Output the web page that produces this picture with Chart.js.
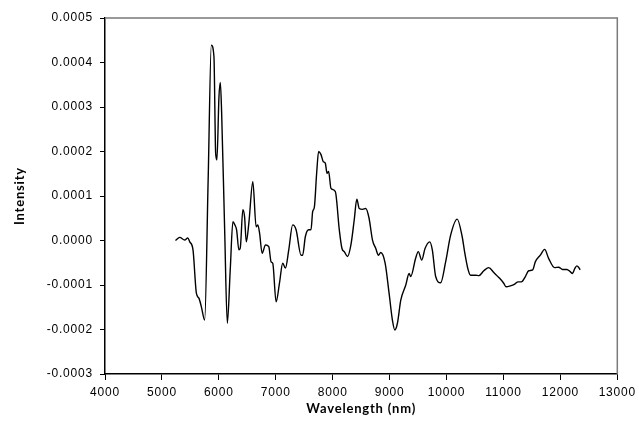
<!DOCTYPE html>
<html lang="en">

<head>
    <meta charset="UTF-8">
    <title>Intensity</title>
    <script src="https://cdn.jsdelivr.net/npm/chart.js"></script>
    <style>
        body { margin: 0; background: #fff; }
        .grafico { width: 639px; height: 437px; }
    </style>
</head>

<body>
    <div class="grafico">
        <canvas id="grafico_linha" width="639" height="437"></canvas>
    </div>
</body>

<script>

// Wavelength (nm) of each sample
const comprimentos = [
  5238, 5313, 5401, 5454, 5489, 5546, 5606, 5651, 5693, 5751,
  5812, 5868, 5914, 5944, 5966, 6002, 6026, 6049, 6102, 6149,
  6200, 6247, 6282, 6312, 6352, 6376, 6422, 6452, 6482, 6527,
  6597, 6655, 6685, 6715, 6761, 6819, 6877, 6918, 6947, 7006,
  7065, 7122, 7170, 7228, 7297, 7357, 7444, 7472, 7520, 7578,
  7619, 7648, 7678, 7718, 7753, 7795, 7835, 7870, 7900, 7928,
  7970, 8046, 8116, 8163, 8203, 8261, 8320, 8378, 8424, 8466,
  8524, 8581, 8639, 8699, 8757, 8803, 8844, 8921, 8991, 9049,
  9091, 9137, 9196, 9284, 9342, 9371, 9457, 9504, 9564, 9622,
  9704, 9750, 9809, 9896, 9984, 10072, 10187, 10274, 10322, 10380,
  10422, 10509, 10567, 10655, 10742, 10830, 10918, 11005, 11044, 11121,
  11198, 11256, 11315, 11385, 11443, 11513, 11559, 11647, 11723, 11793,
  11898, 11968, 12038, 12114, 12172, 12213, 12249, 12289, 12319, 12347
];

// Intensity at each wavelength
const intensidades = [
  0.00e-4, 0.07e-4, 0.01e-4, 0.06e-4, -0.03e-4, -0.21e-4, -1.19e-4, -1.30e-4, -1.49e-4, -1.79e-4,
  1.36e-4, 4.39e-4, 4.13e-4, 1.96e-4, 1.81e-4, 3.23e-4, 3.55e-4, 2.87e-4, 0.24e-4, -1.86e-4,
  -0.66e-4, 0.42e-4, 0.35e-4, 0.24e-4, -0.21e-4, -0.17e-4, 0.69e-4, 0.53e-4, -0.03e-4, 0.39e-4,
  1.32e-4, 0.31e-4, 0.35e-4, 0.17e-4, -0.29e-4, -0.10e-4, -0.14e-4, -0.48e-4, -0.51e-4, -1.38e-4,
  -0.96e-4, -0.51e-4, -0.62e-4, -0.21e-4, 0.35e-4, 0.24e-4, -0.33e-4, -0.33e-4, 0.09e-4, 0.24e-4,
  0.24e-4, 0.65e-4, 0.75e-4, 1.51e-4, 2.00e-4, 1.93e-4, 1.77e-4, 1.74e-4, 1.51e-4, 1.55e-4,
  1.17e-4, 1.10e-4, 0.24e-4, -0.18e-4, -0.25e-4, -0.36e-4, -0.10e-4, 0.46e-4, 0.93e-4, 0.72e-4,
  0.70e-4, 0.72e-4, 0.50e-4, 0.01e-4, -0.18e-4, -0.33e-4, -0.27e-4, -0.51e-4, -1.19e-4, -1.79e-4,
  -2.01e-4, -1.86e-4, -1.34e-4, -1.00e-4, -0.74e-4, -0.81e-4, -0.40e-4, -0.25e-4, -0.44e-4, -0.18e-4,
  -0.03e-4, -0.21e-4, -0.81e-4, -0.95e-4, -0.48e-4, 0.12e-4, 0.48e-4, 0.09e-4, -0.29e-4, -0.66e-4,
  -0.78e-4, -0.78e-4, -0.79e-4, -0.68e-4, -0.61e-4, -0.72e-4, -0.83e-4, -0.96e-4, -1.04e-4, -1.02e-4,
  -0.98e-4, -0.93e-4, -0.93e-4, -0.81e-4, -0.68e-4, -0.66e-4, -0.48e-4, -0.33e-4, -0.20e-4, -0.40e-4,
  -0.61e-4, -0.60e-4, -0.65e-4, -0.65e-4, -0.70e-4, -0.74e-4, -0.64e-4, -0.57e-4, -0.60e-4, -0.66e-4
];

// Axis ticks
const ticksX = [4000, 5000, 6000, 7000, 8000, 9000, 10000, 11000, 12000, 13000];
const ticksY = [-0.0003, -0.0002, -0.0001, 0, 0.0001, 0.0002, 0.0003, 0.0004, 0.0005];

var pontos = [];
for (var i = 0; i < comprimentos.length; i++) {
    pontos.push({ x: comprimentos[i], y: intensidades[i] });
}

// top and right edges of the box, in gray
const moldura = {
    id: 'moldura',
    beforeDraw(chart) {
        // the labels are set a little wider apart
        chart.ctx.letterSpacing = '0.8px';
    },
    afterDraw(chart) {
        const a = chart.chartArea;
        const ctx = chart.ctx;
        ctx.letterSpacing = '0px';
        ctx.save();
        ctx.strokeStyle = '#7a7a7a';
        ctx.lineWidth = 1.5;
        ctx.beginPath();
        ctx.moveTo(a.left, a.top);
        ctx.lineTo(a.right, a.top);
        ctx.lineTo(a.right, a.bottom);
        ctx.stroke();
        ctx.restore();
    }
};

const fonteTicks = { family: '"Liberation Sans", Arial, sans-serif', size: 12 };
const fonteTitulo = { family: 'Lato, "Open Sans", sans-serif', size: 13, weight: 'bold' };

const config_grafico = {
    type: 'line',
    data: {
        datasets: [{
            data: pontos,
            borderColor: '#000',
            borderWidth: 1.4,
            pointRadius: 0,
            cubicInterpolationMode: 'monotone',
            fill: false
        }]
    },
    options: {
        responsive: false,
        devicePixelRatio: 1,
        animation: false,
        layout: { padding: { top: 18, right: 20, left: 0, bottom: 0 } },
        plugins: {
            legend: { display: false },
            tooltip: { enabled: false }
        },
        scales: {
            x: {
                type: 'linear',
                min: 4000,
                max: 13000,
                afterBuildTicks: function (scale) {
                    scale.ticks = ticksX.map(v => ({ value: v }));
                },
                afterFit: function (scale) { scale.height = 63; },
                ticks: {
                    color: '#000',
                    font: fonteTicks,
                    padding: 5,
                    maxRotation: 0,
                    autoSkip: false,
                    callback: v => String(v)
                },
                grid: { drawOnChartArea: false, color: '#000', tickLength: 6 },
                border: { color: '#000', width: 1.5 },
                title: {
                    display: true,
                    text: 'Wavelength (nm)',
                    color: '#000',
                    font: fonteTitulo,
                    padding: { top: 0, bottom: 20 }
                }
            },
            y: {
                min: -0.0003,
                max: 0.0005,
                afterBuildTicks: function (scale) {
                    scale.ticks = ticksY.map(v => ({ value: v }));
                },
                afterFit: function (scale) { scale.width = 105; },
                ticks: {
                    color: '#000',
                    font: fonteTicks,
                    padding: 7,
                    callback: v => v.toFixed(4)
                },
                grid: { drawOnChartArea: false, color: '#000', tickLength: 5 },
                border: { color: '#000', width: 1.5 },
                title: {
                    display: true,
                    text: 'Intensity',
                    color: '#000',
                    font: fonteTitulo,
                    padding: { top: 12, bottom: 0 }
                }
            }
        }
    },
    plugins: [moldura]
};

const GraficoLinha = new Chart(
    document.getElementById('grafico_linha'),
    config_grafico
);

</script>

</html>
